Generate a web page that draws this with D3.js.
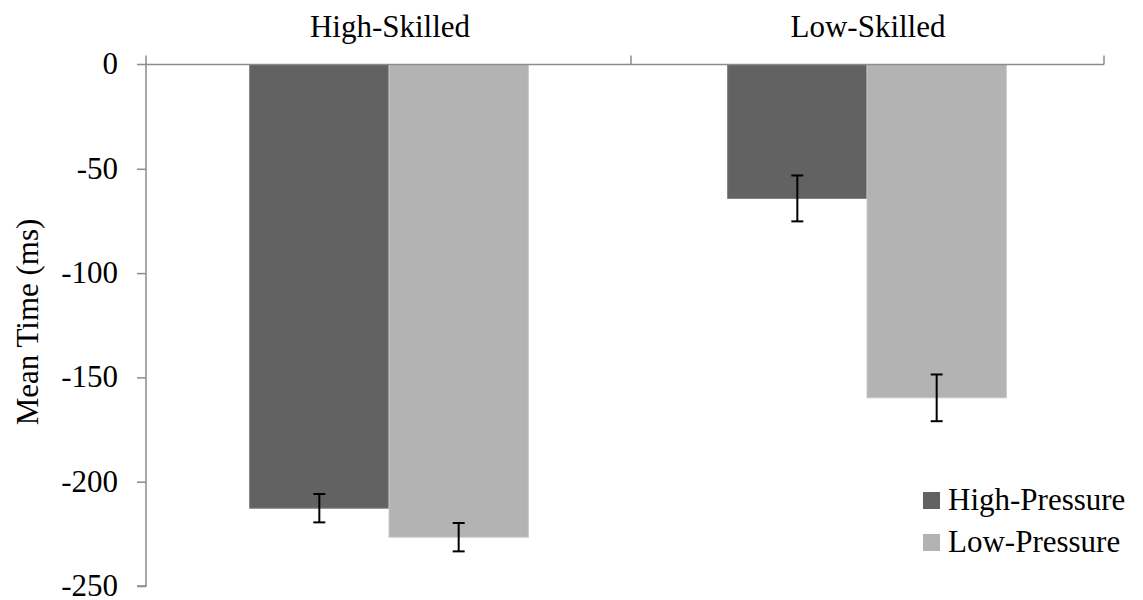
<!DOCTYPE html>
<html>
<head>
<meta charset="utf-8">
<script src="https://cdn.jsdelivr.net/npm/d3@7"></script>
<style>
  html, body { margin: 0; padding: 0; background: #fff; }
  text { font-family: "Liberation Serif", "Times New Roman", serif; fill: #000; }
</style>
</head>
<body>
<svg id="chart" width="1143" height="600"></svg>
<script>
const categories = ["High-Skilled", "Low-Skilled"];
const seriesNames = ["High-Pressure", "Low-Pressure"];
const highPressure = [-212.7, -64.2];
const lowPressure = [-226.6, -159.8];
const highPressureErr = [6.8, 11.0];
const lowPressureErr = [6.8, 11.2];
const yTicks = [0, -50, -100, -150, -200, -250];
const colors = ["#626262", "#b3b3b3"];
const strokes = ["#7a7a7a", "#c9c9c9"];

const svg = d3.select("#chart");
const fontSize = 31;

const y = d3.scaleLinear().domain([-250, 0]).range([586, 64.5]);
const x = d3.scaleBand().domain(categories).range([150, 1106]);
const groupW = x.bandwidth() * 0.583;
const xs = d3.scaleBand().domain(seriesNames).range([0, groupW]);

const data = categories.map((c, i) => ({
  cat: c,
  vals: [
    { s: seriesNames[0], v: highPressure[i], e: highPressureErr[i], k: 0 },
    { s: seriesNames[1], v: lowPressure[i], e: lowPressureErr[i], k: 1 }
  ]
}));

// bars
const g = svg.append("g");
data.forEach(d => {
  const x0 = x(d.cat) + (x.bandwidth() - groupW) / 2;
  d.vals.forEach(b => {
    g.append("rect")
      .attr("x", x0 + xs(b.s))
      .attr("y", y(0))
      .attr("width", xs.bandwidth())
      .attr("height", y(b.v) - y(0))
      .attr("fill", colors[b.k])
      .attr("stroke", strokes[b.k])
      .attr("stroke-width", 1);
  });
});

// error bars
data.forEach(d => {
  const x0 = x(d.cat) + (x.bandwidth() - groupW) / 2;
  d.vals.forEach(b => {
    const cx = x0 + xs(b.s) + xs.bandwidth() / 2;
    const eg = svg.append("g").attr("stroke", "#000").attr("stroke-width", 2);
    eg.append("line").attr("x1", cx).attr("x2", cx).attr("y1", y(b.v + b.e)).attr("y2", y(b.v - b.e));
    eg.append("line").attr("x1", cx - 6).attr("x2", cx + 6).attr("y1", y(b.v + b.e)).attr("y2", y(b.v + b.e));
    eg.append("line").attr("x1", cx - 6).attr("x2", cx + 6).attr("y1", y(b.v - b.e)).attr("y2", y(b.v - b.e));
  });
});

// y axis
const yAxis = d3.axisLeft(y).tickValues(yTicks).tickSize(9).tickPadding(19).tickFormat(d => String(d));
const ya = svg.append("g").attr("transform", "translate(146,0)").call(yAxis);
ya.select(".domain").attr("stroke", "#8c8c8c").attr("stroke-width", 1.5).attr("d", `M-9,${y(-250)}H0V${y(0)}`);
ya.selectAll(".tick line").attr("stroke", "#8c8c8c").attr("stroke-width", 1.5);
ya.selectAll(".tick text").attr("font-size", fontSize).attr("font-family", "Liberation Serif").attr("fill", "#000").attr("dy", "0.3em");
ya.select(".tick:first-of-type line").remove();

// top category axis at zero
const xa = svg.append("g");
xa.append("line").attr("x1", 137).attr("x2", x.range()[1] - 2).attr("y1", y(0)).attr("y2", y(0))
  .attr("stroke", "#8c8c8c").attr("stroke-width", 1.5);
const bounds = [146].concat(categories.map(c => x(c) + x.bandwidth() + 3));
xa.selectAll("line.ct").data(bounds).enter().append("line").attr("class", "ct")
  .attr("x1", d => Math.min(d, x.range()[1] - 2)).attr("x2", d => Math.min(d, x.range()[1] - 2))
  .attr("y1", y(0) - 9).attr("y2", y(0))
  .attr("stroke", "#8c8c8c").attr("stroke-width", 1.5);
xa.selectAll("text").data(categories).enter().append("text")
  .attr("x", d => x(d) + x.bandwidth() / 2 + 1)
  .attr("y", 37)
  .attr("text-anchor", "middle")
  .attr("font-size", fontSize)
  .text(d => d);

// y title
svg.append("text")
  .attr("transform", "translate(38,322) rotate(-90)")
  .attr("text-anchor", "middle")
  .attr("font-size", fontSize)
  .text("Mean Time (ms)");

// legend
const legY = [500, 542];
const lg = svg.append("g");
seriesNames.forEach((s, i) => {
  lg.append("rect").attr("x", 923).attr("y", legY[i] - 8).attr("width", 17).attr("height", 17)
    .attr("fill", colors[i]);
  lg.append("text").attr("x", 948).attr("y", legY[i]).attr("dy", "0.33em")
    .attr("font-size", fontSize).text(s);
});
</script>
</body>
</html>
